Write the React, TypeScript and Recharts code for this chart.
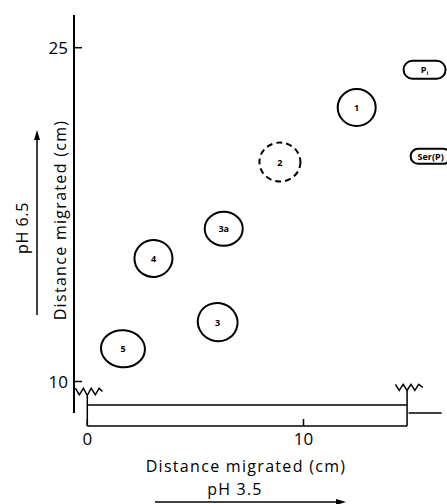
import { ScatterChart, Scatter, XAxis, YAxis, ReferenceLine, Customized } from 'recharts';

// spots on the electrophoretogram
const spotNames = ['5', '4', '3', '3a', '2', '1', 'Pi', 'Ser(P)'];
const spotX = [1.65, 3.06, 6.03, 6.31, 8.91, 12.46, 15.6, 15.88];
const spotY = [11.47, 15.53, 12.67, 16.86, 19.86, 22.31, 24.01, 20.12];

const xTicks = [0, 10];
const yTicks = [10, 25];

// paper strip of the first run (pH 3.5) and the torn ends
const stripFrom = 0;
const stripTo = 14.79;
const stripTop = 8.94;
const stripBottom = 8.0;
const leftZigX = [-0.55, -0.37, -0.18, 0, 0.18, 0.37, 0.55, 0.7];
const leftZigY = [9.7, 9.4, 9.7, 9.37, 9.7, 9.4, 9.7, 9.55];
const rightZigX = [14.25, 14.43, 14.61, 14.79, 14.97, 15.15, 15.33, 15.52];
const rightZigY = [9.87, 9.6, 9.87, 9.6, 9.87, 9.6, 9.87, 9.73];

const spots = spotNames.map((name, i) => ({ name, x: spotX[i], y: spotY[i] }));
const leftZig = leftZigX.map((x, i) => ({ x, y: leftZigY[i] }));
const rightZig = rightZigX.map((x, i) => ({ x, y: rightZigY[i] }));

const X_DOMAIN: [number, number] = [-0.615, 16.637];
const Y_DOMAIN: [number, number] = [8.0, 26.47];
const INK = '#000';
const FONT = '"Open Sans", Lato, sans-serif';

type SpotStyle = { rx: number; ry: number; rot?: number; dashed?: boolean; box?: boolean };
const spotStyle: Record<string, SpotStyle> = {
    '5': { rx: 22, ry: 18.5, rot: 5 },
    '4': { rx: 19, ry: 18.5, rot: -10 },
    '3': { rx: 20, ry: 19, rot: 20 },
    '3a': { rx: 19, ry: 17 },
    '2': { rx: 20.5, ry: 19.5, dashed: true },
    '1': { rx: 19, ry: 18.5 },
    Pi: { rx: 21, ry: 9, box: true },
    'Ser(P)': { rx: 20, ry: 7.5, box: true },
};

const Spot = (props: any) => {
    const { cx, cy, payload } = props;
    const s = spotStyle[payload.name];
    const label =
        payload.name === 'Pi' ? (
            <>
                P<tspan dy={3} fontSize={6}>i</tspan>
            </>
        ) : (
            payload.name
        );
    return (
        <g>
            {s.box ? (
                <rect
                    x={cx - s.rx}
                    y={cy - s.ry}
                    width={s.rx * 2}
                    height={s.ry * 2}
                    rx={s.ry}
                    fill="none"
                    stroke={INK}
                    strokeWidth={2}
                />
            ) : (
                <ellipse
                    cx={cx}
                    cy={cy}
                    rx={s.rx}
                    ry={s.ry}
                    transform={`rotate(${s.rot || 0} ${cx} ${cy})`}
                    fill="none"
                    stroke={INK}
                    strokeWidth={2}
                    strokeDasharray={s.dashed ? '6 4' : undefined}
                />
            )}
            <text
                x={cx}
                y={cy}
                textAnchor="middle"
                dominantBaseline="central"
                fontFamily={FONT}
                fontSize={9}
                fontWeight={700}
                fill={INK}
            >
                {label}
            </text>
        </g>
    );
};

const YTick = (props: any) => {
    const { x, y, payload } = props;
    return (
        <g>
            <line x1={x} y1={y} x2={x + 8} y2={y} stroke={INK} strokeWidth={1.5} />
            <text x={x - 6} y={y} textAnchor="end" dominantBaseline="central" fontFamily={FONT} fontSize={17} fill={INK}>
                {payload.value}
            </text>
        </g>
    );
};

const XTick = (props: any) => {
    const { x, y, payload } = props;
    return (
        <g>
            <line x1={x} y1={y} x2={x} y2={y - 7} stroke={INK} strokeWidth={1.5} />
            <text x={x} y={y + 12} textAnchor="middle" dominantBaseline="central" fontFamily={FONT} fontSize={17} fill={INK}>
                {payload.value}
            </text>
        </g>
    );
};

const Annotations = () => (
    <g fontFamily={FONT} fill={INK}>
        <text x={246} y={466} textAnchor="middle" dominantBaseline="central" fontSize={16} letterSpacing={1.3}>
            Distance migrated (cm)
        </text>
        <text x={235} y={489} textAnchor="middle" dominantBaseline="central" fontSize={16} letterSpacing={1.2}>
            pH 3.5
        </text>
        <line x1={155} y1={502} x2={338} y2={502} stroke={INK} strokeWidth={1.5} />
        <polygon points="346,502 336,499 336,505" fill={INK} />
        <text
            x={60}
            y={220}
            textAnchor="middle"
            dominantBaseline="central"
            fontSize={16}
            letterSpacing={1.3}
            transform="rotate(-90 60 220)"
        >
            Distance migrated (cm)
        </text>
        <text
            x={22}
            y={228}
            textAnchor="middle"
            dominantBaseline="central"
            fontSize={16}
            letterSpacing={0.6}
            transform="rotate(-90 22 228)"
        >
            pH 6.5
        </text>
        <line x1={37} y1={315} x2={37} y2={138} stroke={INK} strokeWidth={1.5} />
        <polygon points="37,130 34,140 40,140" fill={INK} />
    </g>
);

const App = () => (
    <div style={{ position: 'absolute', left: 0, top: 0, background: '#fff' }}>
        <ScatterChart width={447} height={504} margin={{ top: 15, right: 0, bottom: 48, left: 0 }}>
            <XAxis
                type="number"
                dataKey="x"
                domain={X_DOMAIN}
                allowDataOverflow
                ticks={xTicks}
                height={30}
                axisLine={false}
                tickLine={false}
                tickSize={0}
                tickMargin={0}
                tick={<XTick />}
            />
            <YAxis
                type="number"
                dataKey="y"
                domain={Y_DOMAIN}
                allowDataOverflow
                ticks={yTicks}
                width={74}
                axisLine={false}
                tickLine={false}
                tickSize={0}
                tickMargin={0}
                tick={<YTick />}
            />
            {/* vertical axis line stops above the strip */}
            <ReferenceLine
                segment={[{ x: X_DOMAIN[0], y: 8.58 }, { x: X_DOMAIN[0], y: Y_DOMAIN[1] }]}
                stroke={INK}
                strokeWidth={2}
                ifOverflow="visible"
            />
            {/* first-dimension paper strip */}
            <ReferenceLine segment={[{ x: stripFrom, y: stripTop }, { x: stripTo, y: stripTop }]} stroke={INK} strokeWidth={1.5} ifOverflow="visible" />
            <ReferenceLine segment={[{ x: stripFrom, y: stripBottom }, { x: stripTo, y: stripBottom }]} stroke={INK} strokeWidth={1.5} ifOverflow="visible" />
            <ReferenceLine segment={[{ x: stripFrom, y: stripBottom }, { x: stripFrom, y: 9.37 }]} stroke={INK} strokeWidth={1.5} ifOverflow="visible" />
            <ReferenceLine segment={[{ x: stripTo, y: stripBottom }, { x: stripTo, y: 9.6 }]} stroke={INK} strokeWidth={1.5} ifOverflow="visible" />
            <ReferenceLine segment={[{ x: 14.86, y: 8.58 }, { x: 16.39, y: 8.58 }]} stroke={INK} strokeWidth={1.5} ifOverflow="visible" />
            <Scatter data={leftZig} line={{ stroke: INK, strokeWidth: 1.5 }} shape={() => <g />} isAnimationActive={false} />
            <Scatter data={rightZig} line={{ stroke: INK, strokeWidth: 1.5 }} shape={() => <g />} isAnimationActive={false} />
            <Scatter data={spots} shape={<Spot />} isAnimationActive={false} />
            <Customized component={Annotations} />
        </ScatterChart>
    </div>
);

export default App;
